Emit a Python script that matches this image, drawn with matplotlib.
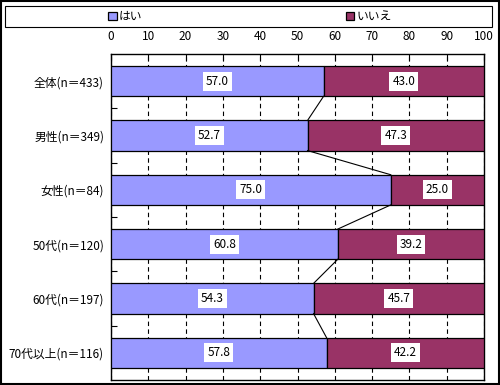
import numpy as np
import matplotlib.pyplot as plt
from matplotlib.patches import Rectangle

plt.rcParams['font.family'] = ['Noto Sans CJK JP', 'DejaVu Sans']

categories = ["全体(n＝433)", "男性(n＝349)", "女性(n＝84)",
              "50代(n＝120)", "60代(n＝197)", "70代以上(n＝116)"]
yes_vals = [57.0, 52.7, 75.0, 60.8, 54.3, 57.8]
no_vals = [43.0, 47.3, 25.0, 39.2, 45.7, 42.2]
series_names = ["はい", "いいえ"]
x_ticks = [0, 10, 20, 30, 40, 50, 60, 70, 80, 90, 100]

COL_YES = "#9999FF"
COL_NO = "#993366"
FS = 8.5

fig = plt.figure(figsize=(5.0, 3.85), dpi=100)
fig.patch.set_facecolor("white")
ax = fig.add_axes([111 / 500, 1 - 380 / 385, 373 / 500, 326 / 385])

y = np.arange(len(categories))
h = 30 / 54
yes = np.array(yes_vals)
no = np.array(no_vals)

b1 = ax.barh(y, yes, height=h, color=COL_YES, edgecolor="black", linewidth=0.9,
             label=series_names[0], zorder=3)
b2 = ax.barh(y, no, left=yes, height=h, color=COL_NO, edgecolor="black", linewidth=0.9,
             label=series_names[1], zorder=3)

# series lines between bars
for i in range(len(y) - 1):
    ax.plot([yes[i], yes[i + 1]], [y[i] + h / 2, y[i + 1] - h / 2],
            color="black", linewidth=0.8, zorder=4)

# value labels
for i in range(len(y)):
    ax.text(yes[i] / 2, y[i], f"{yes[i]:.1f}", ha="center", va="center", fontsize=FS,
            zorder=5, bbox=dict(boxstyle="square,pad=0.25", fc="white", ec="none"))
    ax.text(yes[i] + no[i] / 2, y[i], f"{no[i]:.1f}", ha="center", va="center", fontsize=FS,
            zorder=5, bbox=dict(boxstyle="square,pad=0.25", fc="white", ec="none"))

ax.set_xlim(0, 100)
ax.set_ylim(len(y) - 0.5, -0.5)
ax.xaxis.tick_top()
ax.set_xticks(x_ticks)
ax.set_xticklabels([str(t) for t in x_ticks], fontsize=FS)
ax.tick_params(axis="x", direction="in", length=4, width=0.8, pad=8)
ax.set_yticks(y)
ax.set_yticklabels(categories, fontsize=FS)
ax.set_yticks(np.arange(len(y) - 1) + 0.5, minor=True)
ax.tick_params(axis="y", which="major", length=0, pad=5)
ax.tick_params(axis="y", which="minor", direction="in", length=4, width=0.8)
ax.grid(axis="x", color="black", linestyle=(0, (4, 3)), linewidth=0.8, zorder=0)
for s in ax.spines.values():
    s.set_linewidth(1.0)

# legend box
fig.patches.append(Rectangle((5 / 500, 1 - 27 / 385), 487 / 500, 21 / 385,
                             transform=fig.transFigure, fill=False,
                             edgecolor="black", linewidth=0.8))
fig.legend(handles=[b1, b2], loc="center", bbox_to_anchor=(250 / 500, 1 - 16.5 / 385),
           ncol=2, frameon=False, fontsize=FS, handlelength=0.7, handleheight=0.7,
           handletextpad=0.2, columnspacing=17.2, borderpad=0)

# outer border
fig.patches.append(Rectangle((0.001, 0.002), 0.996, 0.995, transform=fig.transFigure,
                             fill=False, edgecolor="black", linewidth=1.5))

fig.savefig("out.png", dpi=100, facecolor="white")
